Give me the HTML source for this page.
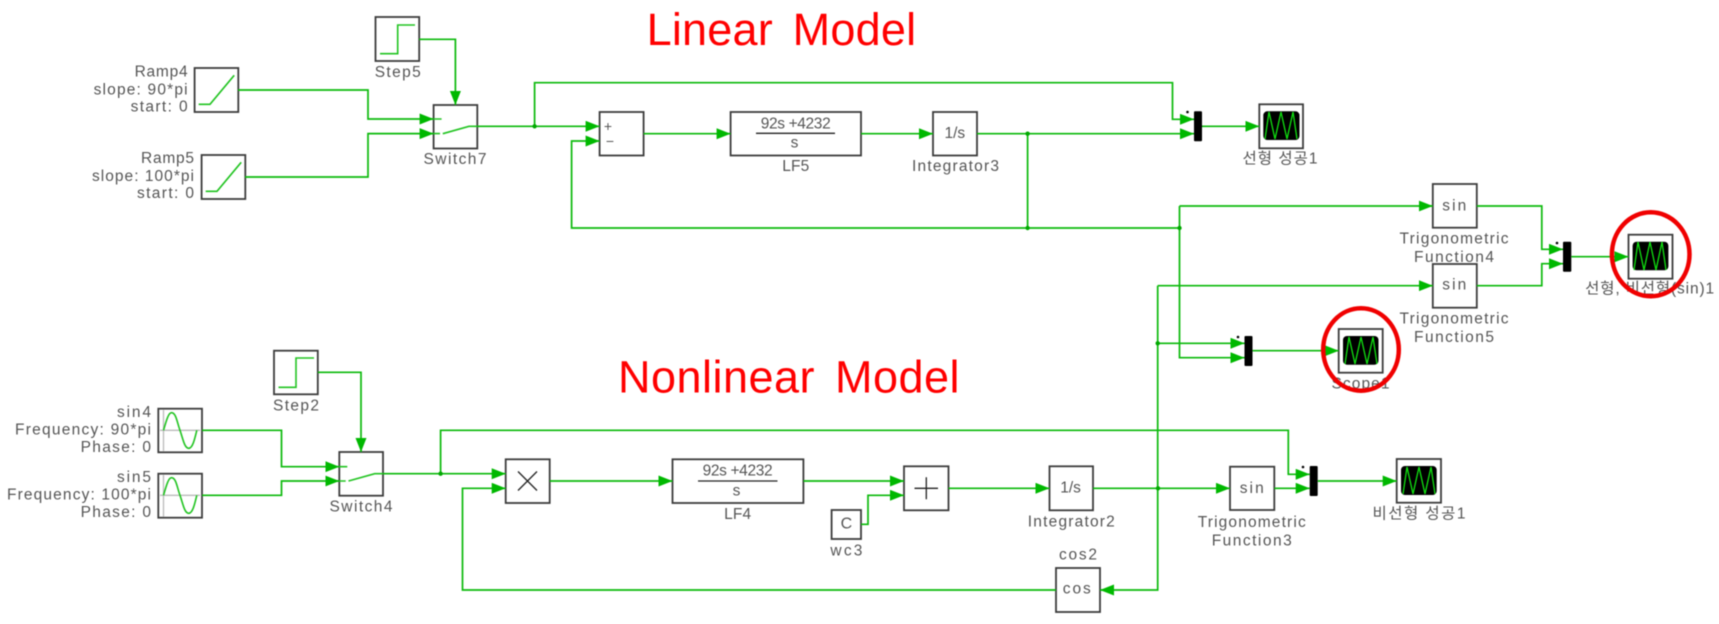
<!DOCTYPE html>
<html lang="ko"><head><meta charset="utf-8"><title>Linear and Nonlinear Model</title>
<style>
html,body{margin:0;padding:0;background:#fff;width:1719px;height:624px;overflow:hidden}
svg{display:block;filter:blur(.45px)}
text{font-family:"Liberation Sans","Noto Sans CJK KR",sans-serif;font-size:15.5px;fill:#555}
.m{text-anchor:middle}.e{text-anchor:end}
.b{fill:#fff;stroke:#3c3c3c;stroke-width:1.8}
.w{fill:none;stroke:#0cba0c;stroke-width:1.7}
.i{fill:none;stroke:#22c422;stroke-width:1.6}
.t{font-size:45px;fill:#f00;word-spacing:7px}
.k{fill:#000;stroke:none}
.z{fill:none;stroke:#10e010;stroke-width:1.3}
</style></head><body>
<svg width="1719" height="624" viewBox="0 0 1719 624" xmlns="http://www.w3.org/2000/svg">
<defs>
<marker id="a" markerUnits="userSpaceOnUse" markerWidth="15" markerHeight="12" refX="14" refY="5.5" orient="auto"><path d="M0 0L14 5.5L0 11Z" fill="#00b800"/></marker>
</defs>
<text class="t" x="646.6" y="45" textLength="269.5" lengthAdjust="spacing">Linear Model</text>
<text class="t" x="618" y="392.7" textLength="341.5" lengthAdjust="spacing">Nonlinear Model</text>

<!-- boxes -->
<g class="b">
<rect x="375.5" y="17" width="43.7" height="44"/>
<rect x="194.6" y="68" width="43.7" height="44"/>
<rect x="201.6" y="155" width="43.7" height="44"/>
<rect x="433.6" y="105" width="43.7" height="43.5"/>
<rect x="599.6" y="112" width="44" height="43.5"/>
<rect x="730.6" y="112" width="130.4" height="43.5"/>
<rect x="933" y="112" width="44" height="43.5"/>
<rect x="1259.3" y="104.3" width="43.7" height="44"/>
<rect x="1432.8" y="184" width="44" height="43.7"/>
<rect x="1432.8" y="264" width="44" height="43.7"/>
<rect x="1338.7" y="329" width="44" height="43.7"/>
<rect x="1628.5" y="234.7" width="44" height="44"/>
<rect x="274" y="350.7" width="43.8" height="43.6"/>
<rect x="158.3" y="408.7" width="43.7" height="43.6"/>
<rect x="158.3" y="473.7" width="43.7" height="44"/>
<rect x="339.3" y="452" width="43.7" height="43.7"/>
<rect x="505.7" y="459.3" width="44" height="43.7"/>
<rect x="672.5" y="459.3" width="130.9" height="43.7"/>
<rect x="904" y="466.3" width="44.5" height="44"/>
<rect x="831.6" y="510" width="29.4" height="29"/>
<rect x="1049.5" y="466.3" width="43.5" height="44"/>
<rect x="1056" y="568" width="44" height="44"/>
<rect x="1230" y="466.7" width="44.3" height="43.3"/>
<rect x="1396.7" y="459" width="44.3" height="43.7"/>
</g>

<!-- icons -->
<path class="i" d="M380 53.7H397.7V25H415"/>
<path class="i" d="M278.5 387.3H296V358H314"/>
<path class="i" d="M198.7 104.3H210L234.2 75.3"/>
<path class="i" d="M205.7 191.3H217L241.2 162.3"/>
<path class="i" d="M433.6 119H441.6M433.6 133.6H440M442.8 133.7L469 126.3H477.3"/>
<path class="i" d="M339.3 466.7H347.3M339.3 481H345.7M348.5 481L374.7 473.7H383"/>
<g stroke="#bbb" stroke-width="1.3" fill="none">
<path d="M163.5 410V451M160 430.3H200"/>
<path d="M163.5 475V516.5M160 495.3H200"/>
</g>
<path class="i" d="M163.5 430.3C166.5 420 168.5 412.7 171.5 412.7C176 412.7 177 422 180 430.3C183 439 184.5 448.3 188.7 448.3C192.5 448.3 194.5 440 196.8 430.3"/>
<path class="i" d="M163.5 495.3C166.5 485 168.5 477.7 171.5 477.7C176 477.7 177 487 180 495.3C183 504 184.5 513.3 188.7 513.3C192.5 513.3 194.5 505 196.8 495.3"/>

<!-- scopes -->
<g>
<rect class="k" x="1263.3" y="111.3" width="36.2" height="28.7" rx="4"/>
<polyline class="z" points="1265,139 1269,112 1275,139 1281,112 1287,139 1293,112 1297,139"/>
<rect class="k" x="1343" y="336" width="35.5" height="28.7" rx="4"/>
<polyline class="z" points="1345,364 1349,337 1355,364 1361,337 1367,364 1373,337 1377,364"/>
<rect class="k" x="1632.6" y="241.7" width="35.8" height="28.6" rx="4"/>
<polyline class="z" points="1634,270 1638,242 1644,270 1650,242 1656,270 1662,242 1666,270"/>
<rect class="k" x="1401" y="466" width="35.7" height="29" rx="4"/>
<polyline class="z" points="1403,494 1407,467 1413,494 1419,467 1425,494 1431,467 1435,494"/>
</g>

<!-- muxes -->
<g>
<rect class="k" x="1194" y="111.3" width="8" height="30" rx="1"/>
<rect class="k" x="1244.5" y="336" width="8" height="30" rx="1"/>
<rect class="k" x="1563" y="241.7" width="8.3" height="30" rx="1"/>
<rect class="k" x="1309.7" y="466" width="8" height="30" rx="1"/>
<circle class="k" cx="1187.5" cy="112" r="1.3"/>
<circle class="k" cx="1238" cy="337" r="1.3"/>
<circle class="k" cx="1557" cy="243" r="1.3"/>
<circle class="k" cx="1303" cy="467" r="1.3"/>
</g>

<!-- wires -->
<g class="w">
<path d="M419 39.3H455.4V105" marker-end="url(#a)"/>
<path d="M238 90H368V119H433.6" marker-end="url(#a)"/>
<path d="M245 177H368V133.6H433.6" marker-end="url(#a)"/>
<path d="M477 126.3H599.6" marker-end="url(#a)"/>
<path d="M534.6 126.3V82.7H1172.5V119.3H1194" marker-end="url(#a)"/>
<path d="M643.6 133.7H730.6" marker-end="url(#a)"/>
<path d="M861 133.7H933" marker-end="url(#a)"/>
<path d="M977 133.7H1194" marker-end="url(#a)"/>
<path d="M1027.6 133.7V228"/>
<path d="M1179.5 228H571.6V141H599.6" marker-end="url(#a)"/>
<path d="M1202 126.3H1259.3" marker-end="url(#a)"/>
<path d="M1179.5 206H1432.8" marker-end="url(#a)"/>
<path d="M1179.5 206V357.7H1244.5" marker-end="url(#a)"/>
<path d="M1157.7 285.7H1432.8" marker-end="url(#a)"/>
<path d="M1157.7 285.7V590H1100" marker-end="url(#a)"/>
<path d="M1157.7 343.3H1244.5" marker-end="url(#a)"/>
<path d="M1476.8 206H1541.8V249.3H1563" marker-end="url(#a)"/>
<path d="M1476.8 285.7H1541.8V263.7H1563" marker-end="url(#a)"/>
<path d="M1252.6 350.7H1338.7" marker-end="url(#a)"/>
<path d="M1571.3 256.7H1628.5" marker-end="url(#a)"/>
<path d="M317.8 372.3H361V452" marker-end="url(#a)"/>
<path d="M202 430.3H281.5V466.7H339.3" marker-end="url(#a)"/>
<path d="M202 495.3H281.5V481H339.3" marker-end="url(#a)"/>
<path d="M383 473.7H505.7" marker-end="url(#a)"/>
<path d="M440.6 473.7V430.3H1288.3V474.3H1309.7" marker-end="url(#a)"/>
<path d="M549.8 481H672.5" marker-end="url(#a)"/>
<path d="M803.4 481H904" marker-end="url(#a)"/>
<path d="M861 524.3H868V495.3H904" marker-end="url(#a)"/>
<path d="M948.5 488.3H1049.5" marker-end="url(#a)"/>
<path d="M1093 488.3H1230" marker-end="url(#a)"/>
<path d="M1274.3 488.3H1309.7" marker-end="url(#a)"/>
<path d="M1317.7 481H1396.7" marker-end="url(#a)"/>
<path d="M1056 590H462.5V488.3H505.7" marker-end="url(#a)"/>
</g>
<g fill="#00a800">
<circle cx="534.6" cy="126.3" r="2.2"/>
<circle cx="1027.6" cy="133.7" r="2.2"/>
<circle cx="1027.6" cy="228" r="2.2"/>
<circle cx="1179.5" cy="228" r="2.2"/>
<circle cx="1157.7" cy="343.3" r="2.2"/>
<circle cx="440.6" cy="473.7" r="2.2"/>
<circle cx="1158" cy="488.3" r="2.2"/>
</g>

<!-- block contents -->
<path d="M756 133.3H835M698 481H777.5" stroke="#222" stroke-width="1.3" fill="none"/>
<path d="M926.3 477.3V499.3M914.5 488.3H938" stroke="#222" stroke-width="1.3" fill="none"/>
<path d="M518 471.5L537 490.5M537 471.5L518 490.5" stroke="#222" stroke-width="1.3" fill="none"/>
<text class="m" x="608" y="131" style="font-size:14px">+</text>
<text class="m" x="610" y="146" style="font-size:14px">−</text>
<text class="m" x="795.7" y="128.5" textLength="70">92s +4232</text>
<text class="m" x="794.5" y="147.5">s</text>
<text class="m" x="954.8" y="138">1/s</text>
<text class="m" x="737.6" y="475.7" textLength="70">92s +4232</text>
<text class="m" x="736.5" y="495.5">s</text>
<text class="m" x="846.4" y="528.5" style="font-size:16px">C</text>
<text class="m" x="1070.6" y="492.3">1/s</text>
<text class="m" x="1076.8" y="593.5" textLength="28">cos</text>
<text class="m" x="1251.7" y="493" textLength="24">sin</text>
<text class="m" x="1454.3" y="210.7" textLength="24">sin</text>
<text class="m" x="1454.3" y="289.7" textLength="24">sin</text>

<!-- labels -->
<g>
<text class="e" x="187.6" y="76.5" textLength="53">Ramp4</text>
<text class="e" x="187.6" y="94.5" textLength="94">slope: 90*pi</text>
<text class="e" x="187.6" y="111.5" textLength="57">start: 0</text>
<text class="e" x="194" y="163.2" textLength="53">Ramp5</text>
<text class="e" x="194" y="181.2" textLength="102">slope: 100*pi</text>
<text class="e" x="194" y="198.2" textLength="57">start: 0</text>
<text class="m" x="397.7" y="77.2" textLength="46">Step5</text>
<text class="m" x="455" y="164.2" textLength="63">Switch7</text>
<text class="m" x="795.7" y="171.2" textLength="27">LF5</text>
<text class="m" x="955.5" y="171.2" textLength="87">Integrator3</text>
<text class="m" x="1280" y="163.5" textLength="75">선형 성공1</text>
<text class="m" x="1454" y="243.5" textLength="109">Trigonometric</text>
<text class="m" x="1454" y="262.2" textLength="80">Function4</text>
<text class="m" x="1454" y="323.5" textLength="109">Trigonometric</text>
<text class="m" x="1454" y="342.2" textLength="80">Function5</text>
<text class="m" x="1649.6" y="293.5" textLength="129">선형, 비선형(sin)1</text>
<text class="m" x="1360.5" y="388.5" textLength="58">Scope1</text>
<text class="e" x="151" y="417.2" textLength="34">sin4</text>
<text class="e" x="151" y="434.5" textLength="136">Frequency: 90*pi</text>
<text class="e" x="151" y="451.8" textLength="70.4">Phase: 0</text>
<text class="e" x="151" y="482.2" textLength="34">sin5</text>
<text class="e" x="151" y="499.5" textLength="144">Frequency: 100*pi</text>
<text class="e" x="151" y="517.2" textLength="70.4">Phase: 0</text>
<text class="m" x="296" y="410.5" textLength="46">Step2</text>
<text class="m" x="361" y="511.5" textLength="63">Switch4</text>
<text class="m" x="737.6" y="518.8" textLength="27">LF4</text>
<text class="m" x="846.4" y="555.5" textLength="32">wc3</text>
<text class="m" x="1071.3" y="526.5" textLength="87">Integrator2</text>
<text class="m" x="1078" y="559.5" textLength="38">cos2</text>
<text class="m" x="1251.7" y="526.8" textLength="108">Trigonometric</text>
<text class="m" x="1251.7" y="545.5" textLength="80">Function3</text>
<text class="m" x="1419" y="518.5" textLength="93">비선형 성공1</text>
</g>

<!-- red highlights -->
<ellipse cx="1361" cy="349.5" rx="37.8" ry="41.2" fill="none" stroke="#f00000" stroke-width="4.5"/>
<ellipse cx="1650.7" cy="254.3" rx="38.8" ry="42" fill="none" stroke="#f00000" stroke-width="4.5"/>
</svg>
</body></html>
